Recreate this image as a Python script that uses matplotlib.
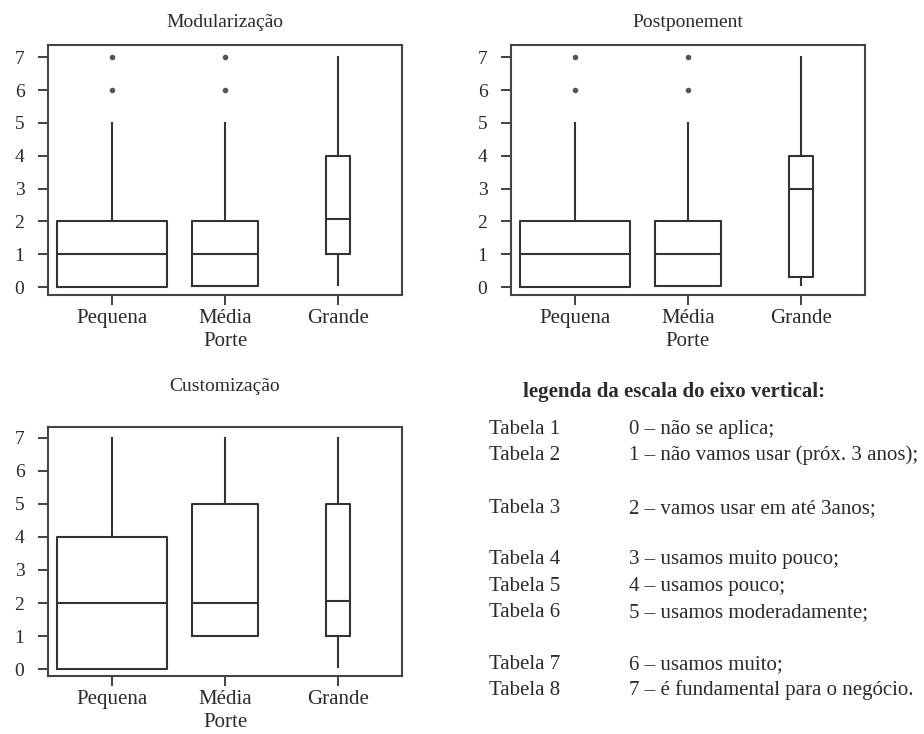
import matplotlib.pyplot as plt

plt.rcParams['font.family'] = ['Liberation Serif', 'DejaVu Serif']

categorias = ['Pequena', 'Média\nPorte', 'Grande']
larguras = [0.98, 0.58, 0.22]

# (whislo, q1, med, q3, whishi, fliers) por categoria
modularizacao = [
    (0, 0, 1, 2, 5, [6, 7]),
    (0.04, 0.04, 1.02, 2, 5, [6, 7]),
    (0.05, 1, 2.08, 4, 7, []),
]
postponement = [
    (0, 0, 1, 2, 5, [6, 7]),
    (0.04, 0.04, 1.02, 2, 5, [6, 7]),
    (0.05, 0.3, 3, 4, 7, []),
]
customizacao = [
    (0, 0, 2, 4, 7, []),
    (1, 1, 2, 5, 7, []),
    (0.05, 1, 2.05, 5, 7, []),
]

tabelas = ['Tabela 1', 'Tabela 2', 'Tabela 3', 'Tabela 4',
           'Tabela 5', 'Tabela 6', 'Tabela 7', 'Tabela 8']
escala = ['0 – não se aplica;',
          '1 – não vamos usar (próx. 3 anos);',
          '2 – vamos usar em até 3anos;',
          '3 – usamos muito pouco;',
          '4 – usamos pouco;',
          '5 – usamos moderadamente;',
          '6 – usamos muito;',
          '7 – é fundamental para o negócio.']
# linha de base de cada linha da legenda, em pixels a partir do topo
linhas_y = [434, 460, 513, 564, 591, 617, 669, 695]

cor = '#333333'
txt = '#2a2a2a'
W, H = 924, 734
fig = plt.figure(figsize=(W / 100, H / 100), dpi=100)


def painel(rect, dados, titulo, ylim, pad):
    ax = fig.add_axes(rect)
    stats = []
    for (lo, q1, med, q3, hi, fl) in dados:
        stats.append(dict(whislo=lo, q1=q1, med=med, q3=q3, whishi=hi, fliers=fl))
    ax.bxp(stats, positions=[1, 2, 3], widths=larguras, showcaps=False,
           boxprops=dict(color=cor, linewidth=1.5),
           medianprops=dict(color=cor, linewidth=1.5),
           whiskerprops=dict(color=cor, linewidth=1.5),
           flierprops=dict(marker='o', markersize=3, markerfacecolor='#555555',
                           markeredgecolor='#555555'))
    ax.set_xlim(0.434, 3.566)
    ax.set_ylim(*ylim)
    ax.set_yticks(range(8))
    ax.set_xticks([1, 2, 3])
    ax.set_xticklabels(categorias, fontsize=15, color=txt, linespacing=1.3)
    ax.tick_params(axis='y', labelsize=14, length=7, width=1.3, color=cor,
                   labelcolor=txt, pad=10)
    ax.tick_params(axis='x', length=7, width=1.3, color=cor, pad=3)
    for s in ax.spines.values():
        s.set_linewidth(1.5)
        s.set_color('#444444')
    ax.set_title(titulo, fontsize=14, color=txt, pad=pad)
    return ax


pw = 354 / W
painel([48 / W, 1 - 295 / H, pw, 250 / H], modularizacao, 'Modularização', (-0.24, 7.37), 13)
painel([511 / W, 1 - 295 / H, pw, 250 / H], postponement, 'Postponement', (-0.24, 7.37), 13)
painel([48 / W, 1 - 676 / H, pw, 249 / H], customizacao, 'Customização', (-0.21, 7.33), 26)

fig.text(523 / W, 1 - 392 / H, 'legenda da escala do eixo vertical:',
         fontsize=15, fontweight='bold', color=txt, va='center')
for tab, desc, y in zip(tabelas, escala, linhas_y):
    fig.text(489 / W, 1 - y / H, tab, fontsize=15, color=txt, va='baseline')
    fig.text(629 / W, 1 - y / H, desc, fontsize=15, color=txt, va='baseline')

fig.savefig('out.png', dpi=100, facecolor='white')
